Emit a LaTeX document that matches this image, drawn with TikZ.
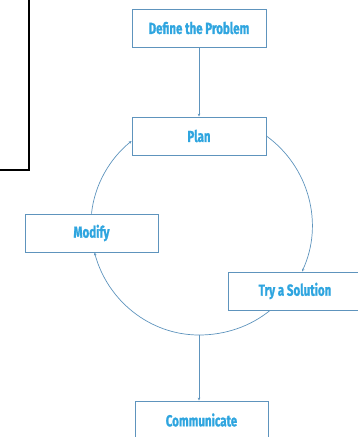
\documentclass[tikz,border=0pt]{standalone}
\usepackage{fontspec}
\usepackage{tikz}
\usetikzlibrary{arrows.meta, positioning, calc}
\newfontfamily\stepfont[FakeStretch=0.72, FakeBold=1.2]{Fira Sans}
\definecolor{textblue}{HTML}{2FA5DF}
\definecolor{lineblue}{HTML}{5E94BD}

\begin{document}
\begin{tikzpicture}[
    x=1pt, y=1pt,
    stepbox/.style={draw=lineblue, line width=0.9pt, minimum width=134pt, minimum height=38pt, align=center, text=textblue, font=\stepfont\bfseries\fontsize{16}{18}\selectfont},
    arrow/.style={-{Stealth[length=3pt, width=2.6pt]}, lineblue, line width=0.7pt}
]
    \useasboundingbox (0,0) rectangle (358,-437);
    \draw[line width=1.5pt] (29,0) -- (29,-170) -- (0,-170);

    \node[stepbox] (define) at (199,-28) {Define the Problem};
    \node[stepbox] (plan) at (199,-136) {Plan};
    \node[stepbox, minimum width=133pt] (modify) at (91.5,-233) {Modify};
    \node[stepbox] (try) at (295,-291) {Try a Solution};
    \node[stepbox, minimum width=133pt] (comm) at (201.5,-420) {Communicate};
    \coordinate (bot) at (199,-335);

    \draw[arrow] (define) -- (plan);
    \draw[arrow] (plan.east) to[out=-36, in=65, looseness=0.96] ([xshift=7pt]try.north);
    \draw[lineblue, line width=0.7pt] ([xshift=-25pt]try.south) to[out=-141, in=0, looseness=0.88] (bot);
    \draw[arrow] (bot) to[out=180, in=-75, looseness=0.95] ([xshift=3pt]modify.south);
    \draw[arrow] (modify.north) to[out=84, in=-141, looseness=0.88] ([yshift=-5pt]plan.west);
    \draw[arrow] (bot) -- (bot |- comm.north);
\end{tikzpicture}
\end{document}
